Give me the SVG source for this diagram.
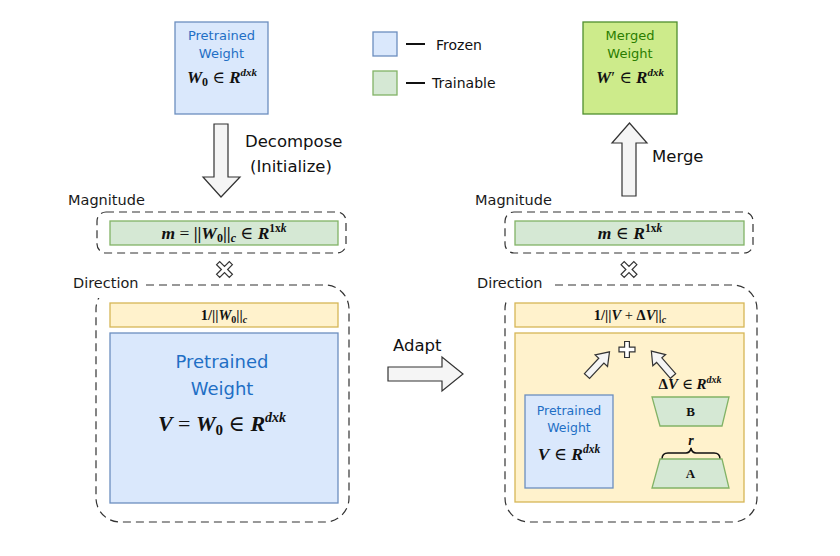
<svg xmlns="http://www.w3.org/2000/svg" width="840" height="556" viewBox="0 0 840 556">
<style>
.sans{font-family:"DejaVu Sans","Liberation Sans",sans-serif;fill:#111}
.lbl{font-family:"DejaVu Sans","Liberation Sans",sans-serif;fill:#1a1a1a}
.blue{fill:#1f6fc5}
.math{font-family:"Liberation Serif","DejaVu Serif",serif;font-weight:bold;fill:#111}
.v{font-style:italic}
.frozen{fill:#dae8fc;stroke:#6c8ebf;stroke-width:1.3}
.train{fill:#d5e8d4;stroke:#82b366;stroke-width:1.3}
.orange{fill:#fff2cc;stroke:#d6b656;stroke-width:1.3}
.dash{fill:none;stroke:#333;stroke-width:1.2;stroke-dasharray:8 5}
.arrow{fill:#f5f5f5;stroke:#333;stroke-width:1.2;stroke-linejoin:miter}
.sym{fill:#fff;stroke:#333;stroke-width:1.2}
</style>
<defs>
<path id="smallArrow" d="M0,-3.5 L21,-3.5 L21,-8.5 L33,0 L21,8.5 L21,3.5 L0,3.5 Z"/>
</defs>
<rect width="840" height="556" fill="#fff"/>

<!-- top-left pretrained weight -->
<g id="pretrained-top">
  <rect class="frozen" x="175" y="22" width="93" height="92"/>
  <text class="sans blue" x="221.5" y="40" font-size="13" text-anchor="middle">Pretrained</text>
  <text class="sans blue" x="221.5" y="58" font-size="13" text-anchor="middle">Weight</text>
  <text class="math" x="222" y="83" font-size="17" text-anchor="middle"><tspan class="v">W</tspan><tspan font-size="12" dy="3">0</tspan><tspan dy="-3" font-weight="normal"> ∈ </tspan><tspan class="v">R</tspan><tspan class="v" font-size="11" dy="-7">dxk</tspan></text>
</g>

<!-- legend -->
<g id="legend">
  <rect class="frozen" x="373" y="32" width="24" height="24"/>
  <line x1="406" y1="44" x2="425" y2="44" stroke="#111" stroke-width="2"/>
  <text class="sans" x="436" y="50" font-size="14">Frozen</text>
  <rect class="train" x="373" y="71" width="24" height="24"/>
  <line x1="406" y1="83" x2="425" y2="83" stroke="#111" stroke-width="2"/>
  <text class="sans" x="432" y="88" font-size="14">Trainable</text>
</g>

<!-- merged weight -->
<g id="merged">
  <rect x="583" y="22" width="94" height="92" fill="#cdeb8b" stroke="#4f8f2f" stroke-width="1.3"/>
  <text class="sans" x="630" y="40" font-size="13" text-anchor="middle" style="fill:#2a7d00">Merged</text>
  <text class="sans" x="630" y="58" font-size="13" text-anchor="middle" style="fill:#2a7d00">Weight</text>
  <text class="math" x="630" y="83" font-size="17" text-anchor="middle"><tspan class="v">W</tspan><tspan font-weight="normal">′ ∈ </tspan><tspan class="v">R</tspan><tspan class="v" font-size="11" dy="-7">dxk</tspan></text>
</g>

<!-- left magnitude -->
<g id="magnitude-left">
  <text class="lbl" x="68" y="205" font-size="14.5">Magnitude</text>
  <rect class="dash" x="97" y="212" width="249" height="41" rx="9"/>
  <rect class="train" x="110" y="221" width="228" height="24"/>
  <text class="math" x="224" y="239" font-size="17.5" text-anchor="middle"><tspan class="v">m</tspan><tspan font-weight="normal"> = </tspan><tspan>||</tspan><tspan class="v">W</tspan><tspan font-size="12" dy="3">0</tspan><tspan dy="-3">||</tspan><tspan class="v" font-size="12" dy="3">c</tspan><tspan dy="-3" font-weight="normal"> ∈ </tspan><tspan class="v">R</tspan><tspan font-size="11.5" dy="-7">1x</tspan><tspan class="v" font-size="11.5">k</tspan></text>
</g>
<g id="times-left">
  <path class="sym" transform="translate(224.5,269.5) rotate(45)" d="M2.2,-9 L2.2,-2.2 L9,-2.2 L9,2.2 L2.2,2.2 L2.2,9 L-2.2,9 L-2.2,2.2 L-9,2.2 L-9,-2.2 L-2.2,-2.2 L-2.2,-9 Z"/>
</g>

<!-- left direction -->
<g id="direction-left">
  <rect class="dash" x="96" y="285" width="253" height="237" rx="24"/>
  <rect x="66" y="272" width="78" height="26" fill="#fff"/>
  <text class="lbl" x="73" y="288" font-size="14.5">Direction</text>
  <rect class="orange" x="110" y="303" width="228" height="24"/>
  <text class="math" x="224" y="320" font-size="14.5" text-anchor="middle"><tspan>1/||</tspan><tspan class="v">W</tspan><tspan font-size="10" dy="3">0</tspan><tspan dy="-3">||</tspan><tspan class="v" font-size="10" dy="3">c</tspan></text>
  <rect class="frozen" x="110" y="333" width="228" height="170"/>
  <text class="sans blue" x="222" y="368" font-size="18" text-anchor="middle">Pretrained</text>
  <text class="sans blue" x="222" y="395" font-size="18" text-anchor="middle">Weight</text>
  <text class="math" x="222" y="431" font-size="22" text-anchor="middle"><tspan class="v">V</tspan><tspan font-weight="normal"> = </tspan><tspan class="v">W</tspan><tspan font-size="15" dy="4">0</tspan><tspan dy="-4" font-weight="normal"> ∈ </tspan><tspan class="v">R</tspan><tspan class="v" font-size="14" dy="-9">dxk</tspan></text>
</g>

<!-- right magnitude -->
<g id="magnitude-right">
  <text class="lbl" x="475" y="205" font-size="14.5">Magnitude</text>
  <rect class="dash" x="505" y="212" width="248" height="41" rx="9"/>
  <rect class="train" x="515" y="221" width="229" height="24"/>
  <text class="math" x="630" y="239" font-size="17.5" text-anchor="middle"><tspan class="v">m</tspan><tspan font-weight="normal"> ∈ </tspan><tspan class="v">R</tspan><tspan font-size="11.5" dy="-7">1x</tspan><tspan class="v" font-size="11.5">k</tspan></text>
</g>
<g id="times-right">
  <path class="sym" transform="translate(629,269.5) rotate(45)" d="M2.2,-9 L2.2,-2.2 L9,-2.2 L9,2.2 L2.2,2.2 L2.2,9 L-2.2,9 L-2.2,2.2 L-9,2.2 L-9,-2.2 L-2.2,-2.2 L-2.2,-9 Z"/>
</g>

<!-- right direction -->
<g id="direction-right">
  <rect class="dash" x="505" y="285" width="252" height="237" rx="24"/>
  <rect x="472" y="272" width="78" height="26" fill="#fff"/>
  <text class="lbl" x="477" y="288" font-size="14.5">Direction</text>
  <rect class="orange" x="515" y="303" width="229" height="24"/>
  <text class="math" x="630" y="320" font-size="14.5" text-anchor="middle"><tspan>1/||</tspan><tspan class="v">V</tspan><tspan font-weight="normal"> + </tspan><tspan>Δ</tspan><tspan class="v">V</tspan><tspan>||</tspan><tspan class="v" font-size="10" dy="3">c</tspan></text>
  <rect class="orange" x="515" y="333" width="229" height="169"/>
</g>

<g id="plus">
  <path class="sym" transform="translate(627,349.5)" d="M2.4,-8 L2.4,-2.4 L8,-2.4 L8,2.4 L2.4,2.4 L2.4,8 L-2.4,8 L-2.4,2.4 L-8,2.4 L-8,-2.4 L-2.4,-2.4 L-2.4,-8 Z"/>
</g>

<g id="pretrained-small">
  <rect class="frozen" x="525" y="395" width="88" height="93"/>
  <text class="sans blue" x="569" y="415" font-size="12.5" text-anchor="middle">Pretrained</text>
  <text class="sans blue" x="569" y="432" font-size="12.5" text-anchor="middle">Weight</text>
  <text class="math" x="569" y="460" font-size="17.5" text-anchor="middle"><tspan class="v">V</tspan><tspan font-weight="normal"> ∈ </tspan><tspan class="v">R</tspan><tspan class="v" font-size="11.5" dy="-7">dxk</tspan></text>
</g>

<g id="delta-label">
  <text class="math" x="690" y="389" font-size="15" text-anchor="middle"><tspan>Δ</tspan><tspan class="v">V</tspan><tspan font-weight="normal"> ∈ </tspan><tspan class="v">R</tspan><tspan class="v" font-size="10" dy="-6">dxk</tspan></text>
</g>

<g id="B">
  <path class="train" d="M652,397 L729,397 L722,426 L660,426 Z"/>
  <text class="math" x="690.5" y="416" font-size="13" text-anchor="middle">B</text>
</g>

<g id="A">
  <path d="M662,459 Q662,453 668,453 L686,453 Q690,453 691,448 Q692,453 696,453 L714,453 Q720,453 720,459" fill="none" stroke="#111" stroke-width="1.5"/>
  <text class="math v" x="691" y="445" font-size="14" text-anchor="middle" font-weight="normal">r</text>
  <path class="train" d="M660,459 L722,459 L729,488 L652,488 Z"/>
  <text class="math" x="690.5" y="478" font-size="13" text-anchor="middle">A</text>
</g>

<!-- connectors -->
<g id="connectors">
  <path class="arrow" d="M214,124 L228,124 L228,177 L240,177 L221,197 L203,177 L214,177 Z"/>
  <path class="arrow" d="M622,196 L636,196 L636,143 L647,143 L629.5,123 L612,143 L622,143 Z"/>
  <path class="arrow" d="M388,367 L442,367 L442,357 L463,374 L442,391 L442,381 L388,381 Z"/>
  <use href="#smallArrow" class="arrow" transform="translate(587,376) rotate(-47)"/>
  <use href="#smallArrow" class="arrow" transform="translate(673,376) rotate(-131)"/>
</g>
<g id="connector-labels">
  <text class="sans" x="245" y="147" font-size="16.5">Decompose</text>
  <text class="sans" x="250" y="172" font-size="16.5">(Initialize)</text>
  <text class="sans" x="652" y="162" font-size="16.5">Merge</text>
  <text class="sans" x="393" y="351" font-size="16.5">Adapt</text>
</g>
</svg>
